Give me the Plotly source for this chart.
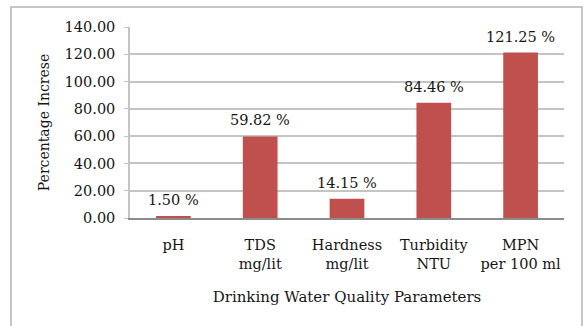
import plotly.graph_objects as go

# Drinking water quality parameters and their percentage increase
categories = ["pH", "TDS<br>mg/lit", "Hardness<br>mg/lit", "Turbidity<br>NTU", "MPN<br>per 100 ml"]
increase = [1.50, 59.82, 14.15, 84.46, 121.25]
y_ticks = [0, 20, 40, 60, 80, 100, 120, 140]

BAR_COLOR = "#C0504D"
FONT = "DejaVu Serif"
TEXT_COLOR = "#161616"


def text_font(size=14.5):
    return dict(family=FONT, size=size, color=TEXT_COLOR, weight="normal")


fig = go.Figure(
    go.Bar(
        x=categories,
        y=increase,
        marker=dict(color=BAR_COLOR, line=dict(width=0)),
        width=0.4,
        hoverinfo="skip",
    )
)

# value labels above each bar
for cat, val in zip(categories, increase):
    fig.add_annotation(
        x=cat, y=val, text=f"{val:.2f} %", showarrow=False,
        yanchor="bottom", yshift=6,
        font=text_font(14.5),
    )

# outer chart frame
fig.add_shape(
    type="rect", xref="paper", yref="paper",
    x0=-0.2742, x1=1.0415, y0=-0.60, y1=1.1047,
    line=dict(color="#b4b4b4", width=1.5), layer="below",
)

fig.update_layout(
    width=588, height=326,
    margin=dict(l=130, r=24, t=27, b=108),
    paper_bgcolor="white", plot_bgcolor="white",
    showlegend=False,
    font=text_font(),
    xaxis=dict(
        showgrid=False, showline=True, linecolor="#8c8c8c", linewidth=1.5,
        ticks="", ticklabelstandoff=13,
        tickfont=text_font(14.5),
        title=dict(text="Drinking Water Quality Parameters",
                   font=text_font(15), standoff=20),
    ),
    yaxis=dict(
        range=[0, 140], tickvals=y_ticks, tickformat=".2f",
        showgrid=True, gridcolor="#c4c4c4", gridwidth=1.5,
        showline=True, linecolor="#c4c4c4", linewidth=1.5,
        ticks="outside", ticklen=4, tickcolor="#c4c4c4", ticklabelstandoff=6,
        zeroline=False,
        tickfont=text_font(14.5),
        title=dict(text="Percentage Increse", font=text_font(14), standoff=12),
    ),
)

fig.write_html("out.html")
